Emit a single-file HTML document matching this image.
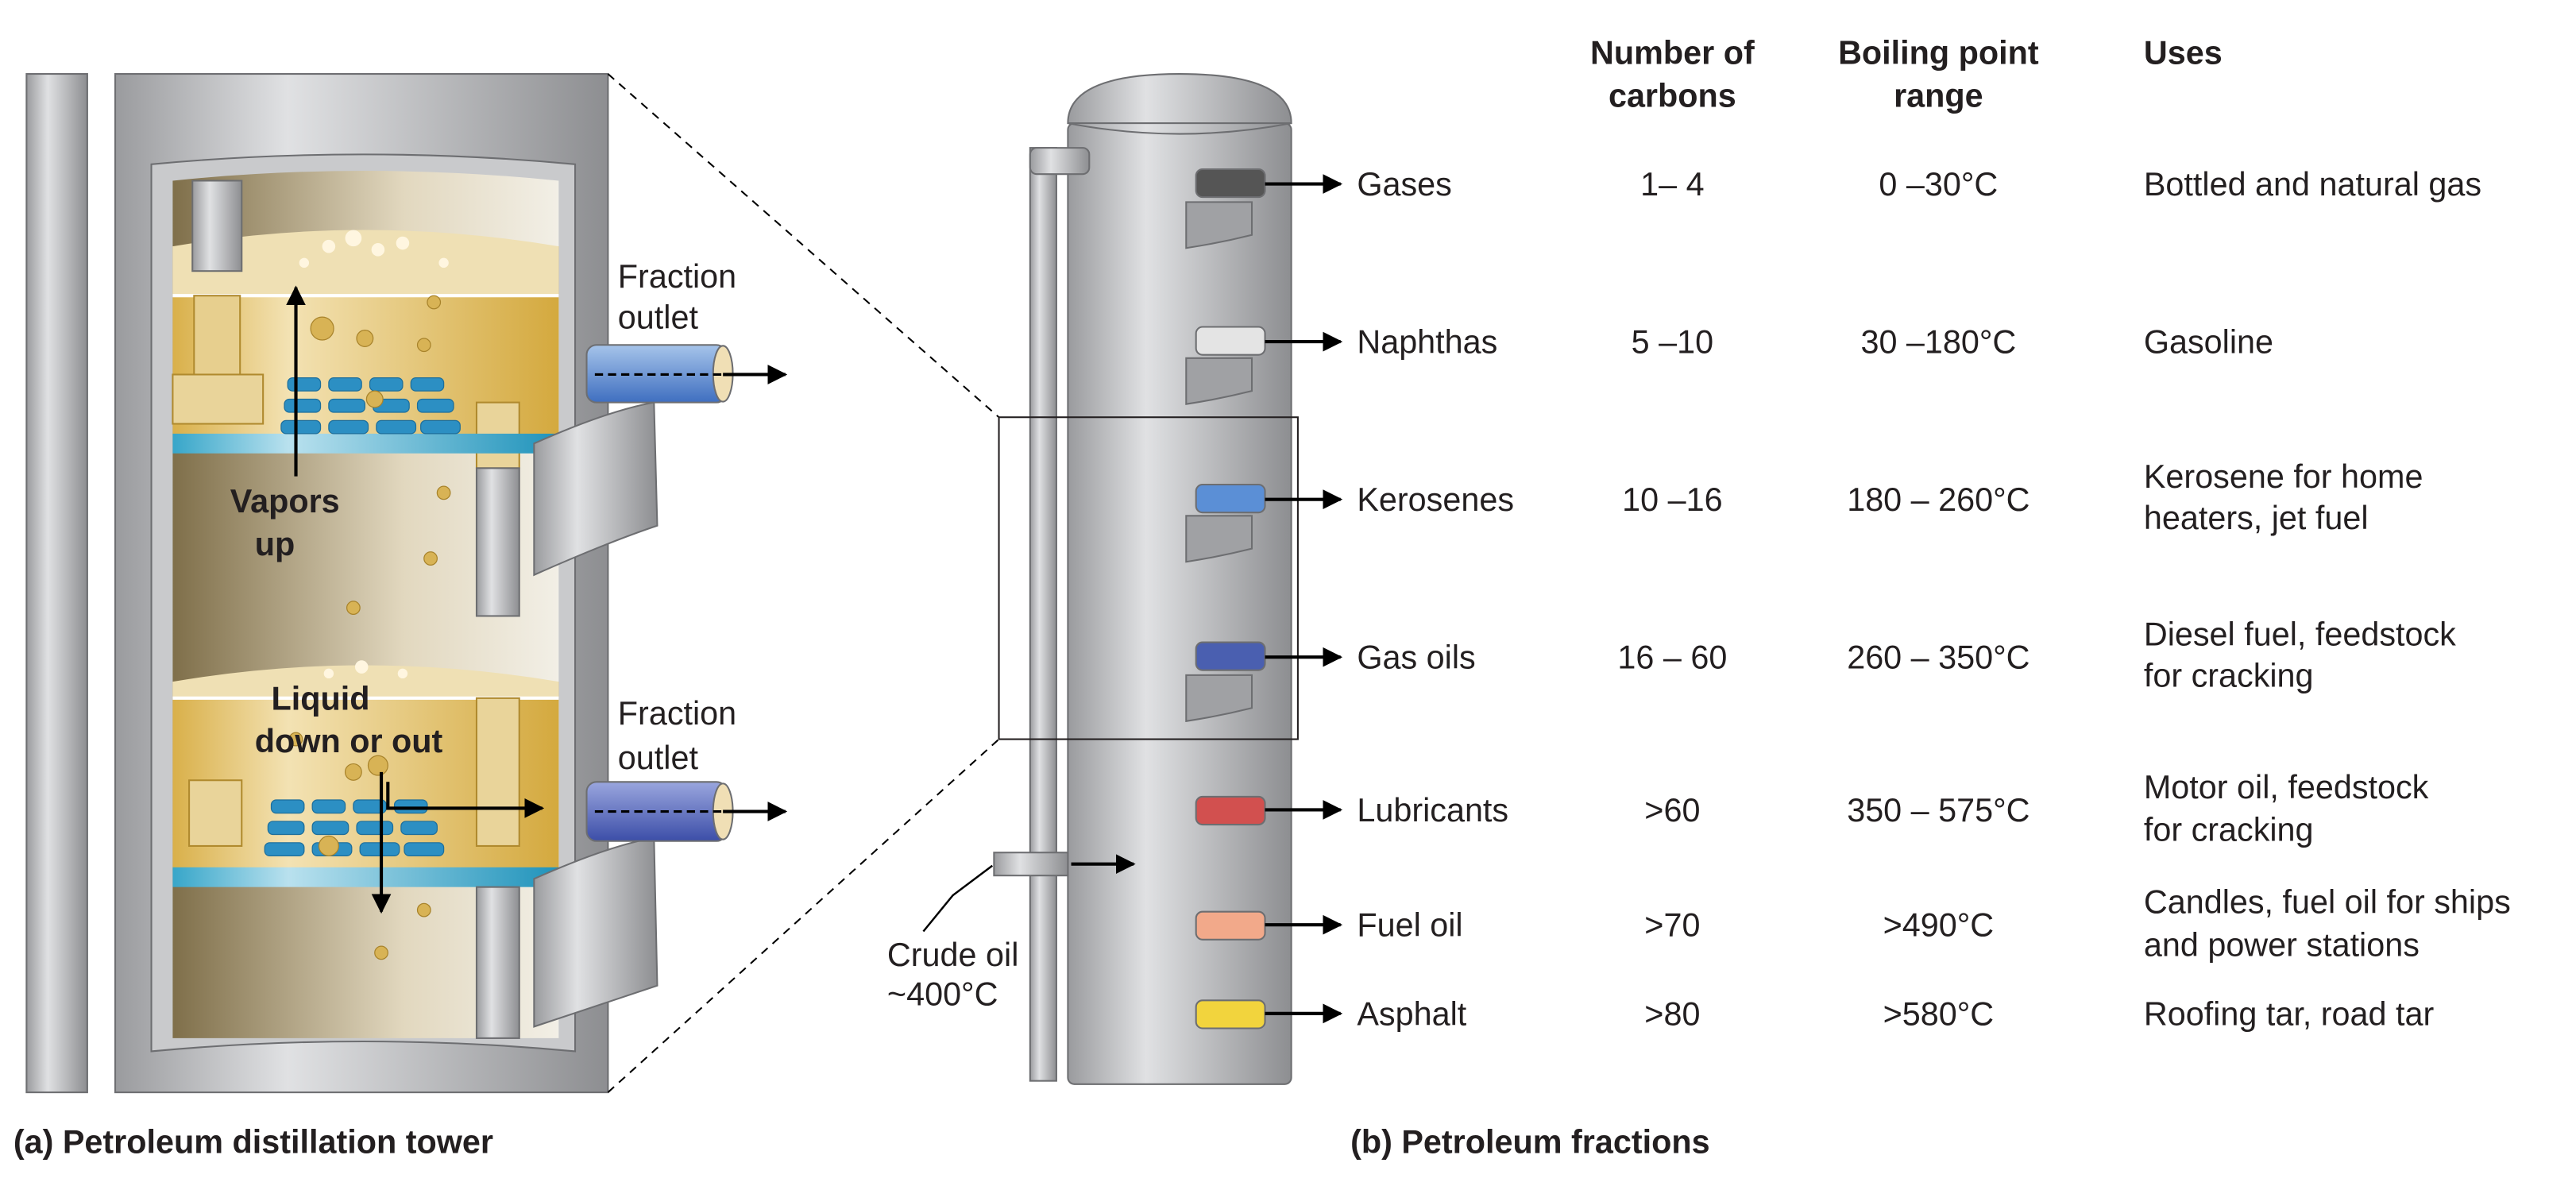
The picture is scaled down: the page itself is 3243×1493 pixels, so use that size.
<!DOCTYPE html>
<html><head><meta charset="utf-8"><style>html,body{margin:0;padding:0;background:#fff}svg{display:block}text{font-family:"Liberation Sans",sans-serif;fill:#231f20}</style></head><body>
<svg width="3243" height="1493" viewBox="0 0 1568 722" xmlns="http://www.w3.org/2000/svg">
<defs>
<linearGradient id="g" x1="0" x2="1"><stop offset="0" stop-color="#9a9b9e"/><stop offset=".35" stop-color="#e0e1e3"/><stop offset="1" stop-color="#8d8e91"/></linearGradient>
<linearGradient id="gi" x1="0" x2="1"><stop offset="0" stop-color="#7f6f4a"/><stop offset=".6" stop-color="#e2d8bf"/><stop offset="1" stop-color="#f2efe6"/></linearGradient>
<linearGradient id="liq" x1="0" x2="1"><stop offset="0" stop-color="#d9b04a"/><stop offset=".3" stop-color="#f3e2b3"/><stop offset="1" stop-color="#d4a93e"/></linearGradient>
<linearGradient id="tr" x1="0" x2="1"><stop offset="0" stop-color="#37a6c9"/><stop offset=".3" stop-color="#b9e1ee"/><stop offset="1" stop-color="#1f93bb"/></linearGradient>
<linearGradient id="b1" x1="0" y1="0" x2="0" y2="1"><stop offset="0" stop-color="#a6c4ea"/><stop offset="1" stop-color="#3f6fc0"/></linearGradient>
<linearGradient id="b2" x1="0" y1="0" x2="0" y2="1"><stop offset="0" stop-color="#9aa6de"/><stop offset="1" stop-color="#3c4ea8"/></linearGradient>
<marker id="ar" viewBox="0 0 10 10" refX="9" refY="5" markerWidth="6" markerHeight="6" orient="auto"><path d="M0 0L10 5L0 10z" fill="#000"/></marker>
</defs>
<rect x="16" y="45" width="37" height="620" fill="url(#g)" stroke="#6d6e71"/>
<rect x="70" y="45" width="300" height="620" fill="url(#g)" stroke="#6d6e71"/>
<path d="M92 100 Q221 88 350 100 L350 640 Q221 628 92 640Z" fill="#c9cacc" stroke="#6d6e71"/>
<path d="M105 110 Q221 98 340 110 L340 632 L105 632Z" fill="url(#gi)"/>
<rect x="105" y="150" width="235" height="115" fill="url(#liq)"/>
<path d="M105 150 Q221 130 340 150 V180 H105Z" fill="#efe0b4"/>
<line x1="105" y1="180" x2="340" y2="180" stroke="#fff" stroke-width="2"/>
<rect x="117" y="110" width="30" height="55" fill="url(#g)" stroke="#6d6e71"/>
<rect x="118" y="180" width="28" height="70" fill="#e7cf8e" stroke="#b08a2e"/>
<rect x="105" y="228" width="55" height="30" fill="#e9d49a" stroke="#b08a2e"/>
<rect x="290" y="245" width="26" height="40" fill="#e9d49a" stroke="#b08a2e"/>
<rect x="105" y="264" width="235" height="12" fill="url(#tr)"/>
<g fill="#2c8fc3" stroke="#1d6e9b" stroke-width=".6">
<rect x="175" y="230" width="20" height="8" rx="3"/><rect x="200" y="230" width="20" height="8" rx="3"/><rect x="225" y="230" width="20" height="8" rx="3"/><rect x="250" y="230" width="20" height="8" rx="3"/>
<rect x="173" y="243" width="22" height="8" rx="3"/><rect x="200" y="243" width="22" height="8" rx="3"/><rect x="227" y="243" width="22" height="8" rx="3"/><rect x="254" y="243" width="22" height="8" rx="3"/>
<rect x="171" y="256" width="24" height="8" rx="3"/><rect x="200" y="256" width="24" height="8" rx="3"/><rect x="229" y="256" width="24" height="8" rx="3"/><rect x="256" y="256" width="24" height="8" rx="3"/>
</g>
<rect x="290" y="285" width="26" height="90" fill="url(#g)" stroke="#6d6e71"/>
<rect x="105" y="415" width="235" height="115" fill="url(#liq)"/>
<path d="M105 415 Q221 395 340 415 V425 H105Z" fill="#efe0b4"/>
<line x1="105" y1="425" x2="340" y2="425" stroke="#fff" stroke-width="2"/>
<rect x="115" y="475" width="32" height="40" fill="#e9d49a" stroke="#b08a2e"/>
<rect x="290" y="425" width="26" height="90" fill="#e9d49a" stroke="#b08a2e"/>
<rect x="105" y="528" width="235" height="12" fill="url(#tr)"/>
<g fill="#2c8fc3" stroke="#1d6e9b" stroke-width=".6">
<rect x="165" y="487" width="20" height="8" rx="3"/><rect x="190" y="487" width="20" height="8" rx="3"/><rect x="215" y="487" width="20" height="8" rx="3"/><rect x="240" y="487" width="20" height="8" rx="3"/>
<rect x="163" y="500" width="22" height="8" rx="3"/><rect x="190" y="500" width="22" height="8" rx="3"/><rect x="217" y="500" width="22" height="8" rx="3"/><rect x="244" y="500" width="22" height="8" rx="3"/>
<rect x="161" y="513" width="24" height="8" rx="3"/><rect x="190" y="513" width="24" height="8" rx="3"/><rect x="219" y="513" width="24" height="8" rx="3"/><rect x="246" y="513" width="24" height="8" rx="3"/>
</g>
<rect x="290" y="540" width="26" height="92" fill="url(#g)" stroke="#6d6e71"/>
<g fill="#d8b355" stroke="#a8832b" stroke-width=".6">
<circle cx="196" cy="200" r="7"/><circle cx="222" cy="206" r="5"/><circle cx="264" cy="184" r="4"/><circle cx="258" cy="210" r="4"/><circle cx="228" cy="243" r="5"/><circle cx="215" cy="470" r="5"/><circle cx="230" cy="466" r="6"/><circle cx="200" cy="515" r="6"/><circle cx="180" cy="450" r="4"/><circle cx="270" cy="300" r="4"/><circle cx="215" cy="370" r="4"/><circle cx="262" cy="340" r="4"/><circle cx="232" cy="580" r="4"/><circle cx="258" cy="554" r="4"/>
</g>
<g fill="#fff6e0"><circle cx="200" cy="150" r="4"/><circle cx="215" cy="145" r="5"/><circle cx="230" cy="152" r="4"/><circle cx="245" cy="148" r="4"/><circle cx="185" cy="160" r="3"/><circle cx="270" cy="160" r="3"/><circle cx="200" cy="410" r="3"/><circle cx="220" cy="406" r="4"/><circle cx="245" cy="410" r="3"/></g>
<text x="140" y="312" font-size="20" font-weight="bold">Vapors</text>
<text x="155" y="338" font-size="20" font-weight="bold">up</text>
<line x1="180" y1="290" x2="180" y2="175" stroke="#000" stroke-width="2" marker-end="url(#ar)"/>
<text x="165" y="432" font-size="20" font-weight="bold">Liquid</text>
<text x="155" y="458" font-size="20" font-weight="bold">down or out</text>
<line x1="232" y1="470" x2="232" y2="555" stroke="#000" stroke-width="2" marker-end="url(#ar)"/>
<polyline points="236,476 236,492 330,492" fill="none" stroke="#000" stroke-width="2" marker-end="url(#ar)"/>
<path d="M325 270 Q370 250 398 245 L400 320 Q370 330 325 350Z" fill="url(#g)" stroke="#6d6e71"/>
<path d="M325 535 Q370 515 398 510 L400 600 Q370 610 325 625Z" fill="url(#g)" stroke="#6d6e71"/>
<rect x="357" y="210" width="85" height="35" rx="6" fill="url(#b1)" stroke="#6d6e71"/>
<ellipse cx="440" cy="227.5" rx="6" ry="17" fill="#f0dfb5" stroke="#6d6e71"/>
<line x1="362" y1="228" x2="440" y2="228" stroke="#000" stroke-width="1.5" stroke-dasharray="5 3"/>
<line x1="440" y1="228" x2="478" y2="228" stroke="#000" stroke-width="2" marker-end="url(#ar)"/>
<rect x="357" y="476" width="85" height="36" rx="6" fill="url(#b2)" stroke="#6d6e71"/>
<ellipse cx="440" cy="494" rx="6" ry="17" fill="#f0dfb5" stroke="#6d6e71"/>
<line x1="362" y1="494" x2="440" y2="494" stroke="#000" stroke-width="1.5" stroke-dasharray="5 3"/>
<line x1="440" y1="494" x2="478" y2="494" stroke="#000" stroke-width="2" marker-end="url(#ar)"/>
<text x="376" y="175" font-size="20">Fraction</text><text x="376" y="200" font-size="20">outlet</text>
<text x="376" y="441" font-size="20">Fraction</text><text x="376" y="468" font-size="20">outlet</text>
<line x1="370" y1="45" x2="608" y2="254" stroke="#000" stroke-dasharray="5 4"/>
<line x1="370" y1="665" x2="608" y2="450" stroke="#000" stroke-dasharray="5 4"/>
<path d="M650 75 Q650 45 718 45 Q786 45 786 75Z" fill="url(#g)" stroke="#6d6e71"/>
<rect x="650" y="75" width="136" height="585" rx="4" fill="url(#g)" stroke="#6d6e71"/>
<path d="M650 75 Q718 88 786 75" fill="none" stroke="#6d6e71"/>
<rect x="627" y="90" width="16" height="568" fill="url(#g)" stroke="#6d6e71"/>
<rect x="627" y="90" width="36" height="16" rx="4" fill="url(#g)" stroke="#6d6e71"/>
<rect x="605" y="519" width="45" height="14" fill="url(#g)" stroke="#6d6e71"/>
<line x1="652" y1="526" x2="690" y2="526" stroke="#000" stroke-width="2" marker-end="url(#ar)"/>
<polyline points="562,567 580,545 604,527" fill="none" stroke="#000" stroke-width="1.2"/>
<text x="540" y="588" font-size="20">Crude oil</text><text x="540" y="612" font-size="20">~400°C</text>
<rect x="608" y="254" width="182" height="196" fill="none" stroke="#231f20" stroke-width="1"/>
<g stroke="#6d6e71">
<path d="M722 123 h40 v20 q-20 5 -40 8z" fill="#a0a1a4"/><path d="M722 218 h40 v20 q-20 5 -40 8z" fill="#a0a1a4"/><path d="M722 314 h40 v20 q-20 5 -40 8z" fill="#a0a1a4"/><path d="M722 411 h40 v20 q-20 5 -40 8z" fill="#a0a1a4"/>
<rect x="728" y="103" width="42" height="17" rx="4" fill="#555"/>
<rect x="728" y="199" width="42" height="17" rx="4" fill="#e4e4e4"/>
<rect x="728" y="295" width="42" height="17" rx="4" fill="#5b8fd6"/>
<rect x="728" y="391" width="42" height="17" rx="4" fill="#4a5fb0"/>
<rect x="728" y="485" width="42" height="17" rx="4" fill="#d2504f"/>
<rect x="728" y="555" width="42" height="17" rx="4" fill="#f2a98a"/>
<rect x="728" y="609" width="42" height="17" rx="4" fill="#f2d43d"/>
</g>
<g stroke="#000" stroke-width="2" marker-end="url(#ar)">
<line x1="770" y1="112" x2="816" y2="112"/><line x1="770" y1="208" x2="816" y2="208"/><line x1="770" y1="304" x2="816" y2="304"/><line x1="770" y1="400" x2="816" y2="400"/><line x1="770" y1="493" x2="816" y2="493"/><line x1="770" y1="563" x2="816" y2="563"/><line x1="770" y1="617" x2="816" y2="617"/>
</g>
<g font-size="20">
<text x="826" y="119">Gases</text><text x="826" y="215">Naphthas</text><text x="826" y="311">Kerosenes</text><text x="826" y="407">Gas oils</text><text x="826" y="500">Lubricants</text><text x="826" y="570">Fuel oil</text><text x="826" y="624">Asphalt</text>
</g>
<g font-size="20" text-anchor="middle">
<text x="1018" y="119">1– 4</text><text x="1018" y="215">5 –10</text><text x="1018" y="311">10 –16</text><text x="1018" y="407">16 – 60</text><text x="1018" y="500">&gt;60</text><text x="1018" y="570">&gt;70</text><text x="1018" y="624">&gt;80</text>
<text x="1180" y="119">0 –30°C</text><text x="1180" y="215">30 –180°C</text><text x="1180" y="311">180 – 260°C</text><text x="1180" y="407">260 – 350°C</text><text x="1180" y="500">350 – 575°C</text><text x="1180" y="570">&gt;490°C</text><text x="1180" y="624">&gt;580°C</text>
<text x="1018" y="39" font-weight="bold">Number of</text><text x="1018" y="65" font-weight="bold">carbons</text>
<text x="1180" y="39" font-weight="bold">Boiling point</text><text x="1180" y="65" font-weight="bold">range</text>
</g>
<g font-size="20">
<text x="1305" y="39" font-weight="bold">Uses</text>
<text x="1305" y="119">Bottled and natural gas</text>
<text x="1305" y="215">Gasoline</text>
<text x="1305" y="297">Kerosene for home</text><text x="1305" y="322">heaters, jet fuel</text>
<text x="1305" y="393">Diesel fuel, feedstock</text><text x="1305" y="418">for cracking</text>
<text x="1305" y="486">Motor oil, feedstock</text><text x="1305" y="512">for cracking</text>
<text x="1305" y="556">Candles, fuel oil for ships</text><text x="1305" y="582">and power stations</text>
<text x="1305" y="624">Roofing tar, road tar</text>
<text x="8" y="702" font-weight="bold">(a) Petroleum distillation tower</text>
<text x="822" y="702" font-weight="bold">(b) Petroleum fractions</text>
</g>
</svg>
</body></html>
